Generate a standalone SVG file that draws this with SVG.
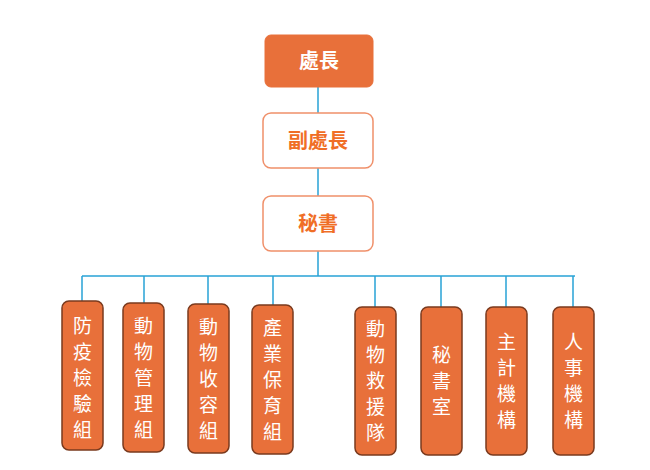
<svg xmlns="http://www.w3.org/2000/svg" width="650" height="470" viewBox="0 0 650 470">
<style>
.c{stroke:#29a3d6;stroke-width:1.5;fill:none}
.top{fill:#E8703A;stroke:#E8703A}
.w{fill:#fff;stroke:#F0906A;stroke-width:1.5}
.b{fill:#E8703A;stroke:#7a3a1e;stroke-width:1.5}
.t{font-family:"Noto Sans CJK TC","Noto Sans CJK SC",sans-serif;font-weight:bold;font-size:20px;text-anchor:middle}
.v{font-family:"Noto Sans CJK TC","Noto Sans CJK SC",sans-serif;font-size:19px;fill:#fff;text-anchor:middle}
</style>
<rect width="650" height="470" fill="#fff"/>
<g id="connectors">
<path class="c" d="M318 87V113M318 168V196M318 251V276M82 276H575M82 276V301M144 276V303M208 276V304M273 276V305M375 276V307M441 276V307M506 276V307M573 276V307"/>
</g>
<g id="n1"><rect class="top" x="265" y="35" width="108" height="52" rx="6"/><text class="t" x="319" y="68" fill="#fff">處長</text></g>
<g id="n2"><rect class="w" x="263" y="113" width="110" height="55" rx="8"/><text class="t" x="318" y="148" fill="#F06E26">副處長</text></g>
<g id="n3"><rect class="w" x="263" y="196" width="110" height="55" rx="8"/><text class="t" x="318" y="231" fill="#F06E26">秘書</text></g>
<g id="b1"><rect class="b" x="62" y="301" width="41" height="149" rx="7"/><text class="v" x="82.5"><tspan x="82.5" y="333">防</tspan><tspan x="82.5" y="359">疫</tspan><tspan x="82.5" y="385">檢</tspan><tspan x="82.5" y="411">驗</tspan><tspan x="82.5" y="437">組</tspan></text></g>
<g id="b2"><rect class="b" x="123" y="303" width="41" height="149" rx="7"/><text class="v"><tspan x="143.5" y="333">動</tspan><tspan x="143.5" y="359">物</tspan><tspan x="143.5" y="385">管</tspan><tspan x="143.5" y="411">理</tspan><tspan x="143.5" y="437">組</tspan></text></g>
<g id="b3"><rect class="b" x="188" y="304" width="41" height="149" rx="7"/><text class="v"><tspan x="208.5" y="334">動</tspan><tspan x="208.5" y="360">物</tspan><tspan x="208.5" y="386">收</tspan><tspan x="208.5" y="412">容</tspan><tspan x="208.5" y="438">組</tspan></text></g>
<g id="b4"><rect class="b" x="252" y="305" width="41" height="149" rx="7"/><text class="v"><tspan x="272.5" y="335">產</tspan><tspan x="272.5" y="361">業</tspan><tspan x="272.5" y="387">保</tspan><tspan x="272.5" y="413">育</tspan><tspan x="272.5" y="439">組</tspan></text></g>
<g id="b5"><rect class="b" x="355" y="307" width="41" height="148" rx="7"/><text class="v"><tspan x="375.5" y="336">動</tspan><tspan x="375.5" y="362">物</tspan><tspan x="375.5" y="388">救</tspan><tspan x="375.5" y="414">援</tspan><tspan x="375.5" y="440">隊</tspan></text></g>
<g id="b6"><rect class="b" x="421" y="307" width="41" height="148" rx="7"/><text class="v"><tspan x="441.5" y="362">秘</tspan><tspan x="441.5" y="388">書</tspan><tspan x="441.5" y="414">室</tspan></text></g>
<g id="b7"><rect class="b" x="486" y="307" width="41" height="148" rx="7"/><text class="v"><tspan x="506.5" y="349">主</tspan><tspan x="506.5" y="375">計</tspan><tspan x="506.5" y="401">機</tspan><tspan x="506.5" y="427">構</tspan></text></g>
<g id="b8"><rect class="b" x="553" y="307" width="41" height="148" rx="7"/><text class="v"><tspan x="573.5" y="349">人</tspan><tspan x="573.5" y="375">事</tspan><tspan x="573.5" y="401">機</tspan><tspan x="573.5" y="427">構</tspan></text></g>
</svg>
